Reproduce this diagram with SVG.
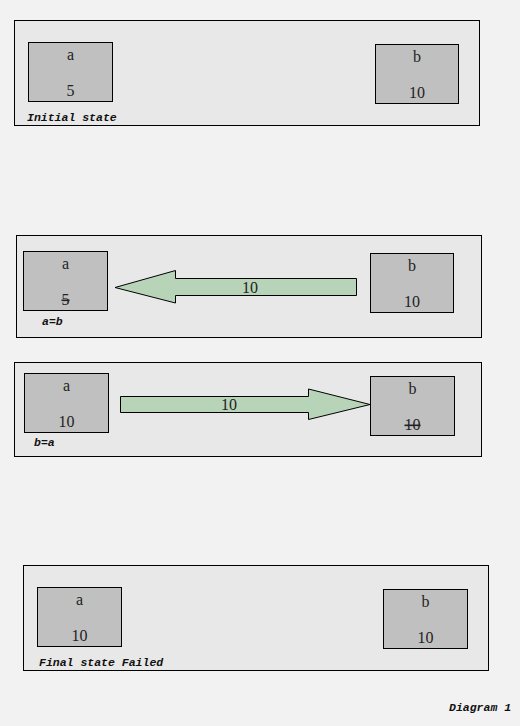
<svg xmlns="http://www.w3.org/2000/svg" width="520" height="726" viewBox="0 0 520 726">
<style>
.panel{fill:#e8e8e8;stroke:#000;stroke-width:1}
.node{fill:#c0c0c0;stroke:#000;stroke-width:1}
.nt{font-family:"Liberation Serif","Times New Roman",serif;font-size:16px;fill:#222;text-anchor:middle}
.strike{text-decoration:line-through}
.lbl{font-family:"Liberation Mono","Courier New",monospace;font-size:11.5px;font-style:italic;font-weight:bold;fill:#111}
.arrow{fill:#b8d4b8;stroke:#000;stroke-width:1}
</style>
<rect x="0" y="0" width="520" height="726" fill="#f2f2f2"/>
<g id="panel1">
<rect class="panel" x="14.5" y="20.5" width="465" height="105"/>
<text class="lbl" x="27" y="121">Initial state</text>
</g>
<g id="p1-a"><rect class="node" x="28.5" y="42.5" width="84" height="59"/><text class="nt" x="70.5" y="60">a</text><text class="nt" x="70.5" y="96">5</text></g>
<g id="p1-b"><rect class="node" x="375.5" y="44.5" width="83" height="59"/><text class="nt" x="417" y="62">b</text><text class="nt" x="417" y="98">10</text></g>

<g id="panel2">
<rect class="panel" x="16.5" y="235.5" width="465" height="102"/>
<text class="lbl" x="42" y="325">a=b</text>
</g>
<g id="p2-a"><rect class="node" x="23.5" y="251.5" width="84" height="59"/><text class="nt" x="65.5" y="269">a</text><text class="nt strike" x="65.5" y="305">5</text></g>
<g id="p2-b"><rect class="node" x="370.5" y="253.5" width="83" height="59"/><text class="nt" x="412" y="271">b</text><text class="nt" x="412" y="307">10</text></g>

<g id="panel3">
<rect class="panel" x="14.5" y="362.5" width="467" height="94"/>
<text class="lbl" x="34" y="446">b=a</text>
</g>
<g id="p3-a"><rect class="node" x="24.5" y="373.5" width="84" height="59"/><text class="nt" x="66.5" y="391">a</text><text class="nt" x="66.5" y="427">10</text></g>
<g id="p3-b"><rect class="node" x="370.5" y="376.5" width="84" height="59"/><text class="nt" x="412.5" y="394">b</text><text class="nt strike" x="412.5" y="430">10</text></g>

<g id="panel4">
<rect class="panel" x="23.5" y="565.5" width="465" height="105"/>
<text class="lbl" x="39" y="666">Final state Failed</text>
</g>
<g id="p4-a"><rect class="node" x="37.5" y="587.5" width="84" height="59"/><text class="nt" x="79.5" y="605">a</text><text class="nt" x="79.5" y="641">10</text></g>
<g id="p4-b"><rect class="node" x="383.5" y="589.5" width="84" height="59"/><text class="nt" x="425.5" y="607">b</text><text class="nt" x="425.5" y="643">10</text></g>

<g id="connectors">
<polygon class="arrow" points="115,287.5 175.5,270.5 175.5,278.5 356.5,278.5 356.5,295.5 175.5,295.5 175.5,303"/>
<text class="nt" x="250" y="293">10</text>
<polygon class="arrow" points="370,404.5 308.5,389 308.5,396.5 120.5,396.5 120.5,412.5 308.5,412.5 308.5,419.5"/>
<text class="nt" x="229" y="410">10</text>
</g>
<text class="lbl" x="449" y="711">Diagram 1</text>
</svg>
